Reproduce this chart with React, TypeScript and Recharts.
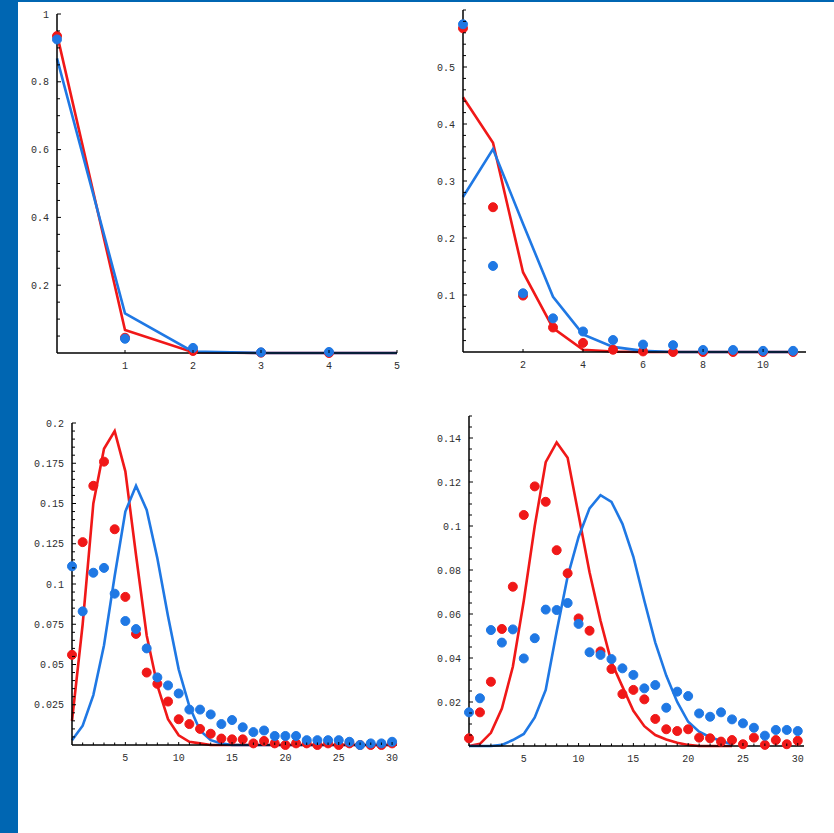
import React from "react";
import { ComposedChart, Line, XAxis, YAxis } from "recharts";

const RED = "#f01818";
const BLUE = "#1f78e4";
const FRAME = "#0066b2";

// ---- panel 1 (top left)
const p1X = [0, 1, 2, 3, 4, 5];
const p1RedLine = [0.94, 0.068, 0.002, 0, 0, 0];
const p1BlueLine = [0.869, 0.117, 0.004, 0, 0, 0];
const p1RedPts = [0.935, 0.045, 0.006, 0.001, 0, null];
const p1BluePts = [0.925, 0.042, 0.015, 0.002, 0.003, null];
const p1XTicks = [1, 2, 3, 4, 5];
const p1YTicks = [0.2, 0.4, 0.6, 0.8, 1];

// ---- panel 2 (top right)
const p2X = [0, 1, 2, 3, 4, 5, 6, 7, 8, 9, 10, 11];
const p2RedLine = [0.447, 0.367, 0.14, 0.042, 0.004, 0.001, 0, 0, 0, 0, 0, 0];
const p2BlueLine = [0.272, 0.356, 0.225, 0.097, 0.031, 0.009, 0.002, 0, 0, 0, 0, 0];
const p2RedPts = [0.568, 0.254, 0.099, 0.043, 0.016, 0.004, 0.001, 0, 0, 0, 0, 0];
const p2BluePts = [0.575, 0.151, 0.103, 0.059, 0.036, 0.021, 0.013, 0.012, 0.0035, 0.0035, 0.002, 0.002];
const p2XTicks = [2, 4, 6, 8, 10];
const p2YTicks = [0.1, 0.2, 0.3, 0.4, 0.5];

// ---- panel 3 (bottom left)
const p3X = [0, 1, 2, 3, 4, 5, 6, 7, 8, 9, 10, 11, 12, 13, 14, 15, 16, 17, 18, 19, 20, 21, 22, 23, 24, 25, 26, 27, 28, 29, 30];
const p3RedLine = [0.015, 0.075, 0.15, 0.184, 0.195, 0.17, 0.118, 0.068, 0.037, 0.016, 0.006, 0.002, 0.001, 0, 0, 0, 0, 0, 0, 0, 0, 0, 0, 0, 0, 0, 0, 0, 0, 0, 0];
const p3BlueLine = [0.003, 0.012, 0.031, 0.062, 0.105, 0.145, 0.161, 0.146, 0.116, 0.08, 0.047, 0.024, 0.009, 0.003, 0.001, 0, 0, 0, 0, 0, 0, 0, 0, 0, 0, 0, 0, 0, 0, 0, 0];
const p3RedPts = [0.056, 0.126, 0.161, 0.176, 0.134, 0.092, 0.069, 0.045, 0.038, 0.027, 0.016, 0.013, 0.01, 0.007, 0.004, 0.0035, 0.0035, 0.001, 0.0025, 0.001, 0, 0.001, 0.001, 0, 0.001, 0, 0.001, 0, 0, 0, 0.001];
const p3BluePts = [0.111, 0.083, 0.107, 0.11, 0.094, 0.077, 0.072, 0.06, 0.042, 0.037, 0.032, 0.022, 0.022, 0.019, 0.013, 0.0155, 0.011, 0.008, 0.009, 0.0056, 0.0056, 0.0056, 0.003, 0.003, 0.003, 0.003, 0.002, 0, 0.001, 0.001, 0.002];
const p3XTicks = [5, 10, 15, 20, 25, 30];
const p3YTicks = [0.025, 0.05, 0.075, 0.1, 0.125, 0.15, 0.175, 0.2];

// ---- panel 4 (bottom right)
const p4X = p3X;
const p4RedLine = [0, 0.001, 0.006, 0.017, 0.036, 0.066, 0.1, 0.129, 0.138, 0.131, 0.105, 0.079, 0.057, 0.038, 0.027, 0.016, 0.009, 0.005, 0.003, 0.0015, 0.0005, 0, 0, 0, 0];
const p4BlueLine = [0, 0, 0, 0.0005, 0.0027, 0.0055, 0.013, 0.0255, 0.052, 0.077, 0.095, 0.108, 0.114, 0.111, 0.101, 0.086, 0.066, 0.047, 0.032, 0.02, 0.011, 0.0065, 0.004, 0.0024, 0.0007];
const p4RedPts = [0.0035, 0.0153, 0.0292, 0.0532, 0.0724, 0.105, 0.118, 0.111, 0.089, 0.0785, 0.058, 0.0524, 0.043, 0.035, 0.0236, 0.0255, 0.0212, 0.0123, 0.0076, 0.0068, 0.0076, 0.0038, 0.0035, 0.002, 0.0027, 0.0008, 0.0038, 0.0005, 0.0027, 0.0008, 0.0024];
const p4BluePts = [0.0153, 0.0217, 0.0527, 0.047, 0.053, 0.0398, 0.049, 0.062, 0.0618, 0.065, 0.0555, 0.0426, 0.0414, 0.0395, 0.0353, 0.0323, 0.0262, 0.0277, 0.0174, 0.0247, 0.0227, 0.0148, 0.0133, 0.0153, 0.0121, 0.0103, 0.0083, 0.0047, 0.0073, 0.0073, 0.0068];
const p4XTicks = [5, 10, 15, 20, 25, 30];
const p4YTicks = [0.02, 0.04, 0.06, 0.08, 0.1, 0.12, 0.14];

const YW = 50; // y axis width
const XH = 30; // x axis height
const MT = 10;
const MR = 10;

const steps = (from: number, to: number, step: number) => {
  const out: number[] = [];
  for (let v = from; v <= to + 1e-9; v += step) out.push(Number(v.toFixed(5)));
  return out;
};

const isIn = (arr: number[], v: number) => arr.some((m) => Math.abs(m - v) < 1e-7);
const fmt = (v: number) => String(Number(v.toFixed(4)));

const labelStyle = { fontFamily: "Liberation Mono, DejaVu Sans Mono, monospace", fontSize: 10, fill: "#2e2e2e" };

function makeYTick(majors: number[]) {
  return (props: any) => {
    const { x, y, payload } = props;
    const major = isIn(majors, payload.value);
    const ax = x + 8;
    return (
      <g>
        <line x1={ax} x2={ax + (major ? 4 : 3)} y1={y} y2={y} stroke="#000" strokeWidth={1} />
        {major && (
          <text x={x} y={y} dy="0.35em" textAnchor="end" {...labelStyle}>
            {fmt(payload.value)}
          </text>
        )}
      </g>
    );
  };
}

function makeXTick(majors: number[]) {
  return (props: any) => {
    const { x, y, payload } = props;
    const major = isIn(majors, payload.value);
    const ay = y - 12;
    return (
      <g>
        <line x1={x} x2={x} y1={ay} y2={ay - (major ? 3 : 2.5)} stroke="#000" strokeWidth={1} />
        {major && (
          <text x={x} y={y} dy="0.35em" textAnchor="middle" {...labelStyle}>
            {fmt(payload.value)}
          </text>
        )}
      </g>
    );
  };
}

type PanelProps = {
  left: number;
  top: number;
  plotW: number;
  plotH: number;
  xs: number[];
  redLine: (number | null)[];
  blueLine: (number | null)[];
  redPts: (number | null)[];
  bluePts: (number | null)[];
  xMax: number;
  yMax: number;
  xMajors: number[];
  xMinorStep: number | null;
  yMajors: number[];
  yMinorStep: number;
  dotR: number;
};

function Panel(p: PanelProps) {
  const data = p.xs.map((x, i) => ({
    x,
    rl: p.redLine[i] ?? null,
    bl: p.blueLine[i] ?? null,
    rp: p.redPts[i] ?? null,
    bp: p.bluePts[i] ?? null,
  }));
  const xTicks = p.xMinorStep ? steps(p.xMinorStep, Math.floor(p.xMax), p.xMinorStep) : p.xMajors;
  const yTicks = steps(p.yMinorStep, p.yMax, p.yMinorStep);
  const W = YW + p.plotW + MR;
  const H = MT + p.plotH + XH;
  return (
    <div style={{ position: "absolute", left: p.left - YW, top: p.top - MT }}>
      <ComposedChart width={W} height={H} data={data} margin={{ top: MT, right: MR, bottom: 0, left: 0 }}>
        <XAxis
          type="number"
          dataKey="x"
          domain={[0, p.xMax]}
          ticks={xTicks}
          interval={0}
          tickSize={0}
          tickMargin={12}
          tickLine={false}
          tick={makeXTick(p.xMajors)}
          axisLine={{ stroke: "#000", strokeWidth: 1.5 }}
          height={XH}
        />
        <YAxis
          type="number"
          domain={[0, p.yMax]}
          ticks={yTicks}
          interval={0}
          tickSize={0}
          tickMargin={8}
          tickLine={false}
          tick={makeYTick(p.yMajors)}
          axisLine={{ stroke: "#000", strokeWidth: 1.5 }}
          width={YW}
        />
        <Line dataKey="rl" type="linear" stroke={RED} strokeWidth={2.6} dot={false} activeDot={false} isAnimationActive={false} />
        <Line dataKey="bl" type="linear" stroke={BLUE} strokeWidth={2.6} dot={false} activeDot={false} isAnimationActive={false} />
        <Line
          dataKey="rp"
          stroke="none"
          dot={{ r: p.dotR, fill: RED, stroke: RED, strokeWidth: 1 }}
          activeDot={false}
          isAnimationActive={false}
        />
        <Line
          dataKey="bp"
          stroke="none"
          dot={{ r: p.dotR, fill: BLUE, stroke: BLUE, strokeWidth: 1 }}
          activeDot={false}
          isAnimationActive={false}
        />
      </ComposedChart>
    </div>
  );
}

export default function App() {
  return (
    <div style={{ position: "absolute", left: 0, top: 0, width: 834, height: 833, background: "#fff", overflow: "hidden" }}>
      <div style={{ position: "absolute", left: 0, top: 0, width: 18, height: 833, background: FRAME }} />
      <div style={{ position: "absolute", left: 0, top: 0, width: 834, height: 2, background: FRAME }} />
      <Panel
        left={57} top={14} plotW={340} plotH={339}
        xs={p1X} redLine={p1RedLine} blueLine={p1BlueLine} redPts={p1RedPts} bluePts={p1BluePts}
        xMax={5} yMax={1} xMajors={p1XTicks} xMinorStep={null} yMajors={p1YTicks} yMinorStep={0.05} dotR={4.5}
      />
      <Panel
        left={463} top={10} plotW={343} plotH={342}
        xs={p2X} redLine={p2RedLine} blueLine={p2BlueLine} redPts={p2RedPts} bluePts={p2BluePts}
        xMax={11.43} yMax={0.6} xMajors={p2XTicks} xMinorStep={null} yMajors={p2YTicks} yMinorStep={0.02} dotR={4.5}
      />
      <Panel
        left={72} top={423} plotW={325} plotH={322}
        xs={p3X} redLine={p3RedLine} blueLine={p3BlueLine} redPts={p3RedPts} bluePts={p3BluePts}
        xMax={30.46} yMax={0.2} xMajors={p3XTicks} xMinorStep={1} yMajors={p3YTicks} yMinorStep={0.005} dotR={4.5}
      />
      <Panel
        left={469} top={416} plotW={335} plotH={330}
        xs={p4X} redLine={p4RedLine} blueLine={p4BlueLine} redPts={p4RedPts} bluePts={p4BluePts}
        xMax={30.57} yMax={0.15} xMajors={p4XTicks} xMinorStep={1} yMajors={p4YTicks} yMinorStep={0.005} dotR={4.5}
      />
    </div>
  );
}
